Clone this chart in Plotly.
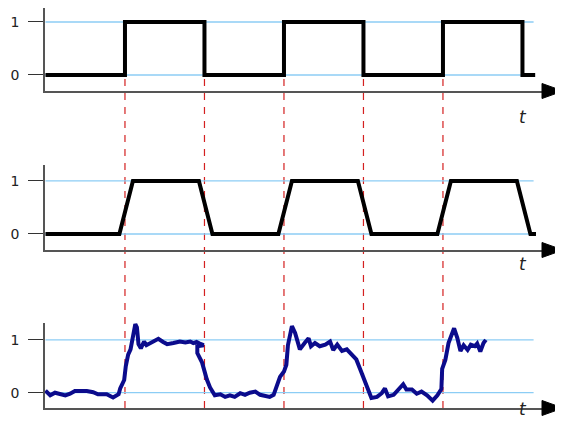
import plotly.graph_objects as go

# time in units where the clock edges sit at 10, 20, ... 60
edges = [10, 20, 30, 40, 50]

square_t = [0, 10, 10, 20, 20, 30, 30, 40, 40, 50, 50, 60, 60, 61.6]
square_v = [0, 0, 1, 1, 0, 0, 1, 1, 0, 0, 1, 1, 0, 0]

trap_t = [0, 9.3, 11.0, 19.3, 21.0, 29.3, 31.0, 39.3, 41.0, 49.3, 51.0, 59.3, 61.0, 61.7]
trap_v = [0, 0, 1, 1, 0, 0, 1, 1, 0, 0, 1, 1, 0, 0]

noisy_t = [
    0.0, 0.6, 1.2, 1.8, 2.5, 3.1, 3.7, 5.2, 6.0, 6.6,
    7.7, 8.5, 9.2, 9.4, 9.9, 10.1, 10.4, 10.7, 11.0, 11.3,
    11.5, 11.7, 12.0, 12.4, 12.7, 13.5, 14.2, 14.8, 15.3, 16.1,
    16.9, 17.6, 18.2, 18.6, 19.0, 19.4, 19.9, 19.1, 19.1, 19.7,
    20.1, 20.3, 20.7, 21.1, 21.3, 22.0, 22.6, 23.2, 23.8, 24.5,
    25.1, 25.7, 26.4, 27.0, 27.6, 28.2, 28.7, 29.1, 29.5, 30.0,
    30.3, 30.5, 31.0, 31.4, 31.8, 32.0, 32.6, 33.1, 33.4, 33.9,
    34.5, 35.2, 35.8, 36.2, 36.7, 37.3, 37.9, 38.5, 39.1, 39.6,
    40.0, 40.4, 41.0, 41.7, 42.3, 42.7, 43.1, 43.8, 44.4, 45.0,
    45.4, 46.1, 46.7, 47.3, 48.0, 48.7, 49.3, 49.8, 49.9, 50.3,
    50.7, 51.0, 51.4, 51.8, 52.2, 52.6, 53.1, 53.5, 54.0, 54.3,
    54.7, 55.1, 55.4,
]
noisy_v = [
    0.04, -0.05, 0.0, -0.02, -0.05, -0.02, 0.03, 0.03, 0.01, -0.03,
    -0.03, -0.09, -0.03, 0.08, 0.24, 0.5, 0.72, 0.82, 1.08, 1.3,
    1.24, 0.92, 0.84, 0.97, 0.9, 0.97, 1.02, 0.96, 0.92, 0.94,
    0.97, 0.95, 0.97, 0.94, 0.96, 0.93, 0.9, 0.88, 0.75, 0.57,
    0.35, 0.25, 0.1, -0.03, -0.05, -0.03, -0.08, -0.05, -0.08, -0.01,
    -0.04, 0.0, 0.02, -0.04, -0.06, -0.08, -0.04, 0.11, 0.3, 0.4,
    0.53, 0.9, 1.26, 1.13, 0.88, 0.82, 0.94, 1.03, 0.88, 0.94,
    0.88, 0.91, 0.97, 0.81, 0.91, 0.79, 0.82, 0.72, 0.63, 0.44,
    0.27, 0.11, -0.1, -0.08, -0.01, 0.08, -0.07, -0.04, 0.05, 0.16,
    0.06, 0.06, -0.02, 0.02, -0.05, -0.15, -0.05, 0.07, 0.45, 0.62,
    0.94, 1.07, 1.22, 1.04, 0.79, 0.9, 0.81, 0.91, 0.88, 0.93,
    0.78, 0.94, 1.0,
]

levels = [0, 1]
level_labels = ["0", "1"]

# page has an 8px body margin, so the figure is 8px smaller each way
W, H = 555, 421
x_range = [-0.06, 65.1]
x_dom = [37 / W, 1]
grid_end = 61.4

panels = [
    dict(dom=[1 - 83 / H, 1], rng=[-0.302, 1.264], t_y=1 - 97 / H),
    dict(dom=[1 - 242 / H, 1 - 157 / H], rng=[-0.302, 1.30], t_y=1 - 256 / H),
    dict(dom=[1 - 400 / H, 1 - 315 / H], rng=[-0.29, 1.32], t_y=1 - 413 / H),
]

fig = go.Figure()
fig.add_trace(go.Scatter(x=square_t, y=square_v, mode="lines",
                         line=dict(color="black", width=4), xaxis="x", yaxis="y"))
fig.add_trace(go.Scatter(x=trap_t, y=trap_v, mode="lines",
                         line=dict(color="black", width=4), xaxis="x2", yaxis="y2"))
fig.add_trace(go.Scatter(x=noisy_t, y=noisy_v, mode="lines",
                         line=dict(color="#0b0b8c", width=4), xaxis="x3", yaxis="y3"))

axis_col = "#555555"
layout = dict(
    width=W, height=H, autosize=False,
    margin=dict(l=0, r=0, t=0, b=0),
    paper_bgcolor="white", plot_bgcolor="rgba(0,0,0,0)",
    showlegend=False,
    font=dict(family="DejaVu Sans", size=14, color="#222222"),
)
shapes = []
annotations = []
for i, p in enumerate(panels):
    sfx = "" if i == 0 else str(i + 1)
    layout["xaxis" + sfx] = dict(
        domain=x_dom, range=x_range, anchor="y" + sfx,
        showline=True, linecolor=axis_col, linewidth=1.5,
        showgrid=False, zeroline=False, showticklabels=False, ticks="",
    )
    layout["yaxis" + sfx] = dict(
        domain=p["dom"], range=p["rng"], anchor="x" + sfx,
        showline=True, linecolor=axis_col, linewidth=1.5,
        showgrid=False, zeroline=False,
        tickvals=levels, ticktext=level_labels,
        ticks="outside", ticklen=15, tickwidth=1.3, tickcolor="#333333",
        ticklabelstandoff=6,
    )
    for lv in levels:
        shapes.append(dict(type="line", xref="x" + sfx, yref="y" + sfx,
                           x0=0, x1=grid_end, y0=lv, y1=lv, layer="below",
                           line=dict(color="#8ccdf5", width=1.3)))
    # arrowhead at end of time axis
    shapes.append(dict(type="path", xref="paper", yref="paper",
                       xsizemode="pixel", ysizemode="pixel",
                       xanchor=1, yanchor=p["dom"][0],
                       path="M-21,-7.5 L0,0 L-21,7.5 Z",
                       fillcolor="black", line=dict(color="black", width=1)))
    annotations.append(dict(x=60.1, y=p["t_y"], xref="x", yref="paper",
                            text="<i>t</i>", showarrow=False,
                            font=dict(size=17, color="#222222")))

for e in edges:
    shapes.append(dict(type="line", xref="x", yref="paper",
                       x0=e, x1=e, y0=1 - 400 / H, y1=1 - 69 / H, layer="below",
                       line=dict(color="#d42020", width=1.2, dash="7px,7px")))

layout["shapes"] = shapes
layout["annotations"] = annotations
fig.update_layout(**layout)

fig.write_html("out.html")
